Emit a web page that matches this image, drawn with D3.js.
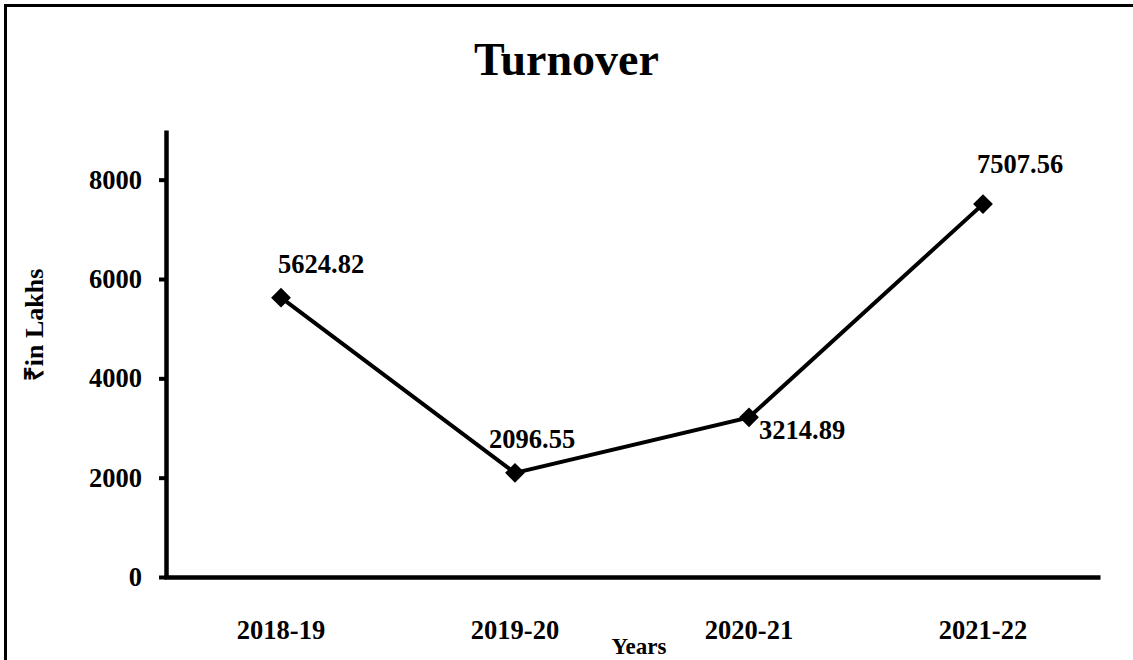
<!DOCTYPE html>
<html>
<head>
<meta charset="utf-8">
<script src="https://cdn.jsdelivr.net/npm/d3@7"></script>
<style>
  body { margin: 0; background: #fff; }
  text { font-family: "Liberation Serif", "Times New Roman", serif; font-weight: bold; fill: #000; }
</style>
</head>
<body>
<div id="chart"></div>
<script>
var years = ["2018-19", "2019-20", "2020-21", "2021-22"];
var turnover = [5624.82, 2096.55, 3214.89, 7507.56];
var yTicks = [0, 2000, 4000, 6000, 8000];

// where each value label sits relative to its point (left edge, baseline)
var labelOffsets = [[-3, -25], [-26, -25], [10, 22], [-6, -31]];

var width = 1133, height = 660;

var svg = d3.select("#chart")
    .append("svg")
    .attr("width", width)
    .attr("height", height);

// outer frame, runs off the right and bottom edges
svg.append("rect")
    .attr("x", 5.5)
    .attr("y", 5.5)
    .attr("width", width + 20)
    .attr("height", height + 20)
    .attr("fill", "none")
    .attr("stroke", "#000")
    .attr("stroke-width", 3);

svg.append("text")
    .attr("x", width / 2)
    .attr("y", 75)
    .attr("text-anchor", "middle")
    .attr("font-size", "46px")
    .text("Turnover");

var x = d3.scaleBand()
    .domain(years)
    .range([164, 1100]);

var y = d3.scaleLinear()
    .domain([0, 9000])
    .range([577, 130]);

var xAxis = svg.append("g")
    .attr("transform", "translate(0," + 577 + ")")
    .call(d3.axisBottom(x).tickSize(0).tickSizeOuter(0).tickPadding(43));
xAxis.select(".domain").attr("stroke-width", 4.5);
xAxis.selectAll("text").attr("font-size", "26.5px").attr("font-family", null);

var yAxis = svg.append("g")
    .attr("transform", "translate(166,0)")
    .call(d3.axisLeft(y).tickValues(yTicks).tickFormat(d3.format("d"))
        .tickSize(7).tickSizeOuter(0).tickPadding(17));
yAxis.select(".domain").attr("stroke-width", 4.5);
yAxis.selectAll(".tick line").attr("stroke-width", 4);
yAxis.selectAll("text").attr("font-size", "26.5px").attr("font-family", null);

svg.append("text")
    .attr("x", 639)
    .attr("y", 654)
    .attr("text-anchor", "middle")
    .attr("font-size", "23px")
    .text("Years");

svg.append("text")
    .attr("transform", "translate(43,325) rotate(-90)")
    .attr("text-anchor", "middle")
    .attr("font-size", "26px")
    .text("\u20B9in Lakhs");

var points = years.map(function (d, i) {
    return { year: d, value: turnover[i], off: labelOffsets[i] };
});

var line = d3.line()
    .x(function (d) { return x(d.year) + x.bandwidth() / 2; })
    .y(function (d) { return y(d.value); });

svg.append("path")
    .datum(points)
    .attr("d", line)
    .attr("fill", "none")
    .attr("stroke", "#000")
    .attr("stroke-width", 4);

svg.selectAll(".marker")
    .data(points)
    .enter()
    .append("path")
    .attr("class", "marker")
    .attr("d", d3.symbol().type(d3.symbolSquare).size(196))
    .attr("transform", function (d) {
        return "translate(" + (x(d.year) + x.bandwidth() / 2) + "," + y(d.value) + ") rotate(45)";
    })
    .attr("fill", "#000");

svg.selectAll(".val")
    .data(points)
    .enter()
    .append("text")
    .attr("class", "val")
    .attr("x", function (d) { return x(d.year) + x.bandwidth() / 2 + d.off[0]; })
    .attr("y", function (d) { return y(d.value) + d.off[1]; })
    .attr("font-size", "26.5px")
    .text(function (d) { return d3.format(".2f")(d.value); });
</script>
</body>
</html>
